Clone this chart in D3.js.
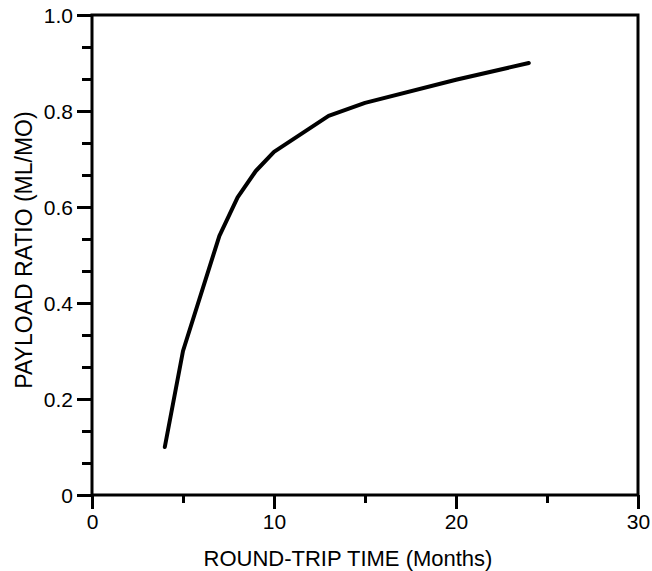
<!DOCTYPE html>
<html>
<head>
<meta charset="utf-8">
<script src="https://cdn.jsdelivr.net/npm/d3@7"></script>
<style>
  body { margin: 0; background: #fff; }
  svg text { font-family: "Liberation Sans", Arial, sans-serif; fill: #000; }
</style>
</head>
<body>
<div id="chart"></div>
<script>
// round-trip time (months) vs payload ratio
const tripMonths = [4, 5, 7, 8, 9, 10, 13, 15, 20, 24];
const payloadRatio = [0.10, 0.30, 0.54, 0.62, 0.675, 0.715, 0.79, 0.817, 0.865, 0.90];
const xTicks = [0, 10, 20, 30];
const xMinorTicks = [5, 15, 25];
const yTicks = [0, 0.2, 0.4, 0.6, 0.8, 1.0];
const yTickLabels = ["0", "0.2", "0.4", "0.6", "0.8", "1.0"];

const width = 652, height = 571;
const plotLeft = 92, plotRight = 638, plotTop = 15, plotBottom = 495;

const svg = d3.select("#chart").append("svg")
    .attr("width", width)
    .attr("height", height);

const x = d3.scaleLinear().domain([0, 30]).range([plotLeft, plotRight]);
const y = d3.scaleLinear().domain([0, 1]).range([plotBottom, plotTop]);

// y minor ticks every third of a major step
const yMinor = d3.range(0, 15).map(i => i / 15).filter((v, i) => i % 3 !== 0);

const yAxis = d3.axisLeft(y).tickValues(yTicks).tickSize(15).tickPadding(4)
    .tickFormat((d, i) => yTickLabels[i]);
const gy = svg.append("g").attr("transform", `translate(${plotLeft},0)`).call(yAxis);
gy.select(".domain").remove();
gy.selectAll("line").attr("stroke", "#000").attr("stroke-width", 3);
gy.selectAll("text").style("font-size", "21px").attr("dy", "0.36em");

svg.append("g").attr("transform", `translate(${plotLeft},0)`)
    .call(d3.axisLeft(y).tickValues(yMinor).tickSize(10).tickFormat(""))
    .call(g => g.select(".domain").remove())
    .selectAll("line").attr("stroke", "#000").attr("stroke-width", 3);

const xAxis = d3.axisBottom(x).tickValues(xTicks).tickSize(14).tickPadding(5)
    .tickFormat(d3.format("d"));
const gx = svg.append("g").attr("transform", `translate(0,${plotBottom})`).call(xAxis);
gx.select(".domain").remove();
gx.selectAll("line").attr("stroke", "#000").attr("stroke-width", 3);
gx.selectAll("text").style("font-size", "21px");

svg.append("g").attr("transform", `translate(0,${plotBottom})`)
    .call(d3.axisBottom(x).tickValues(xMinorTicks).tickSize(8).tickFormat(""))
    .call(g => g.select(".domain").remove())
    .selectAll("line").attr("stroke", "#000").attr("stroke-width", 3);

// frame
svg.append("rect")
    .attr("x", plotLeft).attr("y", plotTop)
    .attr("width", plotRight - plotLeft).attr("height", plotBottom - plotTop)
    .attr("fill", "none").attr("stroke", "#000").attr("stroke-width", 3);

const line = d3.line()
    .x((d, i) => x(tripMonths[i]))
    .y(d => y(d));

svg.append("path")
    .datum(payloadRatio)
    .attr("d", line)
    .attr("fill", "none")
    .attr("stroke", "#000")
    .attr("stroke-width", 4)
    .attr("stroke-linecap", "round")
    .attr("stroke-linejoin", "round");

svg.append("text")
    .attr("x", 348)
    .attr("y", 566)
    .attr("text-anchor", "middle")
    .style("font-size", "22px")
    .text("ROUND-TRIP TIME (Months)");

svg.append("text")
    .attr("transform", "translate(32,250) rotate(-90)")
    .attr("text-anchor", "middle")
    .style("font-size", "23px")
    .text("PAYLOAD RATIO (ML/MO)");
</script>
</body>
</html>
